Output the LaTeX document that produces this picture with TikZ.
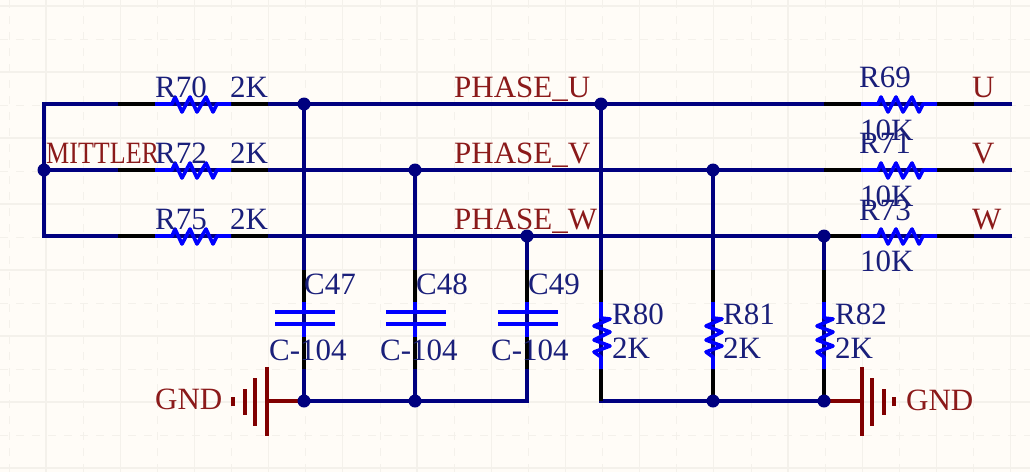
\documentclass[tikz,border=0pt]{standalone}
\usepackage{fontspec}
\setmainfont{Liberation Serif}
\definecolor{paper}{HTML}{FFFCF7}
\definecolor{gridc}{HTML}{F4F1EB}
\definecolor{wirec}{HTML}{00007F}
\definecolor{pinc}{HTML}{0000FF}
\definecolor{gndc}{HTML}{800000}
\definecolor{desc}{HTML}{1A1F7A}
\definecolor{netc}{HTML}{8B1A1A}
\tikzset{
  x=1pt,y=-1pt,
  wire/.style={draw=wirec,line width=3.8pt},
  black pin/.style={draw=black,line width=3.8pt},
  blue pin/.style={draw=pinc,line width=3.6pt},
  gndline/.style={draw=gndc,line width=3.4pt},
  gridsolid/.style={draw=gridc,line width=1.2pt},
  griddash/.style={draw=gridc,line width=1pt,dash pattern=on 8pt off 8pt},
  dot/.style={circle,fill=wirec,inner sep=0pt,minimum size=13pt},
  lbl/.style={inner sep=0pt,anchor=base west,font=\fontsize{31}{31}\selectfont},
  des/.style={lbl,text=desc},
  net/.style={lbl,text=netc},
  hres/.pic={
    \draw[black pin] (-37,0) -- (0,0);
    \draw[black pin] (76,0) -- (113,0);
    \draw[blue pin,line join=round] (0,0) -- (17,0) -- (20,-7) -- (27,8) -- (35,-7) -- (42,8) -- (51,-7) -- (58,8) -- (62,0) -- (76,0);
  },
  vres/.pic={
    \draw[black pin] (0,-32) -- (0,0);
    \draw[black pin] (0,67) -- (0,99);
    \draw[blue pin,line join=round] (0,0) -- (0,16) -- (9,17) -- (-7,24) -- (9,30) -- (-7,38) -- (9,44) -- (-7,50) -- (0,55) -- (0,67);
  },
  vcap/.pic={
    \draw[black pin] (0,-32) -- (0,0);
    \draw[black pin] (0,35) -- (0,67);
    \draw[blue pin] (0,0) -- (0,10);
    \draw[blue pin] (0,22) -- (0,35);
    \draw[blue pin] (-29,10) -- (31,10);
    \draw[blue pin] (-29,22) -- (31,22);
  },
  gndl/.pic={
    \draw[gndline] (0,0) -- (-37,0);
    \draw[gndline] (-37,-34) -- (-37,35);
    \draw[gndline,line width=3.8pt] (-49,-23) -- (-49,25);
    \draw[gndline,line width=3.8pt] (-59,-12) -- (-59,14);
    \draw[gndline,line width=3.8pt] (-71,-4) -- (-71,5);
  },
  gndr/.pic={
    \draw[gndline] (0,0) -- (38,0);
    \draw[gndline] (38,-34) -- (38,35);
    \draw[gndline,line width=3.8pt] (48,-23) -- (48,25);
    \draw[gndline,line width=3.8pt] (60,-12) -- (60,14);
    \draw[gndline,line width=3.8pt] (70,-4) -- (70,5);
  },
}
\begin{document}
\begin{tikzpicture}
\useasboundingbox (0,0) rectangle (1030,472);
\fill[paper] (0,0) rectangle (1030,472);
% background grid
\foreach \i in {0,...,13} {\draw[gridsolid] ({46+74.2*\i},0) -- ({46+74.2*\i},472);}
\foreach \j in {0,...,7} {\draw[gridsolid] (0,{6+66*\j}) -- (1030,{6+66*\j});}
\foreach \i in {0,...,13} {\draw[griddash] ({9+74.2*\i},0) -- ({9+74.2*\i},472);}
\foreach \j in {0,...,6} {\draw[griddash] (0,{39+66*\j}) -- (1030,{39+66*\j});}
% net points
\coordinate (tl) at (44,104);
\coordinate (ml) at (44,170);
\coordinate (bl) at (44,236);
\coordinate (tr) at (1012,104);
\coordinate (mr) at (1012,170);
\coordinate (br) at (1012,236);
\coordinate (u1) at (304,104);
\coordinate (u2) at (601,104);
\coordinate (v1) at (415,170);
\coordinate (v2) at (713,170);
\coordinate (w1) at (527,236);
\coordinate (w2) at (824,236);
\coordinate (g1) at (304,401);
\coordinate (g2) at (415,401);
\coordinate (g3) at (527,401);
\coordinate (g4) at (601,401);
\coordinate (g5) at (713,401);
\coordinate (g6) at (824,401);
% wires
\draw[wire,line join=miter] (tr) -- (tl) -- (bl) -- (br);
\draw[wire] (ml) -- (mr);
\draw[wire] (u1) -- (g1);
\draw[wire] (v1) -- (g2);
\draw[wire] (w1) -- (g3);
\draw[wire] (u2) -- (g4);
\draw[wire] (v2) -- (g5);
\draw[wire] (w2) -- (g6);
\draw[wire,line cap=rect] (g1) -- (g3);
\draw[wire,line cap=rect] (g4) -- (g6);
% symbols
\pic at (155,104) {hres};
\pic at (155,170) {hres};
\pic at (155,236) {hres};
\pic at (861,104) {hres};
\pic at (861,170) {hres};
\pic at (861,236) {hres};
\pic at (304,302) {vcap};
\pic at (415,302) {vcap};
\pic at (527,302) {vcap};
\pic at (601,302) {vres};
\pic at (713,302) {vres};
\pic at (824,302) {vres};
\pic at (g1) {gndl};
\pic at (g6) {gndr};
% junctions
\node[dot] (dml) at (ml) {};
\node[dot] (du1) at (u1) {};
\node[dot] (du2) at (u2) {};
\node[dot] (dv1) at (v1) {};
\node[dot] (dv2) at (v2) {};
\node[dot] (dw1) at (w1) {};
\node[dot] (dw2) at (w2) {};
\node[dot] (dg1) at (g1) {};
\node[dot] (dg2) at (g2) {};
\node[dot] (dg5) at (g5) {};
\node[dot] (dg6) at (g6) {};
% labels
\node[net] (mittler) at (46,163) {\scalebox{0.84}[1]{MITTLER}};
\node[des] (r70) at (155,97) {R70};
\node[des] (r72) at (155,163) {R72};
\node[des] (r75) at (155,229) {R75};
\node[des] (k70) at (230,97) {2K};
\node[des] (k72) at (230,163) {2K};
\node[des] (k75) at (230,229) {2K};
\node[net] (pu) at (454,97) {PHASE\_U};
\node[net] (pv) at (454,163) {PHASE\_V};
\node[net] (pw) at (454,229) {PHASE\_W};
\node[des] (r69) at (859,87) {R69};
\node[des] (k69) at (860,140) {10K};
\node[des] (r71) at (859,153) {R71};
\node[des] (k71) at (860,206) {10K};
\node[des] (r73) at (859,220) {R73};
\node[des] (k73) at (860,271) {10K};
\node[net] (lu) at (972,97) {U};
\node[net] (lv) at (972,163) {V};
\node[net] (lw) at (972,229) {W};
\node[des] (c47) at (304,294) {C47};
\node[des] (c48) at (416,294) {C48};
\node[des] (c49) at (528,294) {C49};
\node[des] (v47) at (269,360) {C-104};
\node[des] (v48) at (380,360) {C-104};
\node[des] (v49) at (491,360) {C-104};
\node[des] (r80) at (612,324) {R80};
\node[des] (r81) at (723,324) {R81};
\node[des] (r82) at (835,324) {R82};
\node[des] (k80) at (612,358) {2K};
\node[des] (k81) at (723,358) {2K};
\node[des] (k82) at (835,358) {2K};
\node[net] (gl) at (155,409) {GND};
\node[net] (gr) at (906,410) {GND};
\end{tikzpicture}
\end{document}
